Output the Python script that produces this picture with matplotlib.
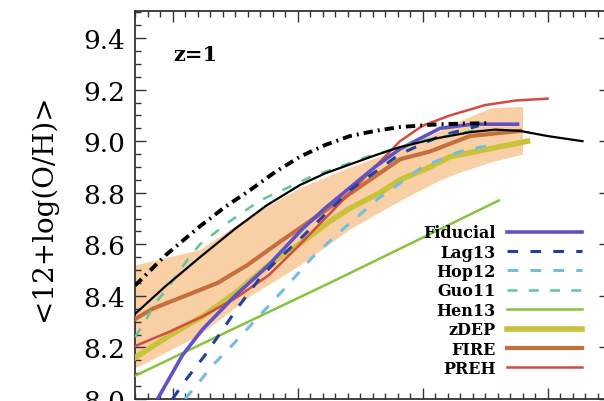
import numpy as np
import matplotlib
matplotlib.use("Agg")
import matplotlib.pyplot as plt
from matplotlib.ticker import MultipleLocator

plt.rcParams['font.family'] = ['DejaVu Serif']

# band (shaded range)
band_x = [7.70, 8.22, 8.62, 9.02, 9.42, 9.82, 10.14, 10.30, 10.55, 10.80]
band_lo = [8.12, 8.25, 8.40, 8.52, 8.66, 8.77, 8.85, 8.88, 8.92, 8.95]
band_hi = [8.52, 8.58, 8.71, 8.82, 8.90, 8.97, 9.04, 9.08, 9.13, 9.135]

# black reference curves
dd_x = [7.70, 7.95, 8.22, 8.42, 8.62, 8.82, 9.02, 9.22, 9.42, 9.62, 9.82, 10.14, 10.52]
dd_y = [8.44, 8.56, 8.67, 8.745, 8.81, 8.88, 8.94, 8.985, 9.02, 9.04, 9.055, 9.066, 9.07]
blk_x = [7.70, 7.95, 8.22, 8.50, 8.75, 9.02, 9.22, 9.42, 9.62, 9.82, 10.10, 10.38, 10.58, 10.78, 11.00, 11.28]
blk_y = [8.33, 8.44, 8.55, 8.66, 8.75, 8.83, 8.875, 8.91, 8.945, 8.977, 9.01, 9.035, 9.045, 9.04, 9.02, 9.00]

# models
fid_x = [7.88, 8.08, 8.24, 8.50, 8.77, 9.04, 9.22, 9.42, 9.62, 9.82, 10.14, 10.40, 10.76]
fid_y = [8.00, 8.17, 8.27, 8.40, 8.52, 8.66, 8.74, 8.82, 8.90, 8.97, 9.05, 9.066, 9.066]
lag_x = [8.00, 8.10, 8.26, 8.36, 8.53, 8.70, 8.80, 9.04, 9.42, 9.82, 10.14, 10.45]
lag_y = [8.00, 8.07, 8.17, 8.24, 8.36, 8.47, 8.52, 8.63, 8.81, 8.95, 9.02, 9.06]
hop_x = [8.10, 8.22, 8.32, 8.50, 8.69, 8.90, 9.12, 9.32, 9.64, 10.00, 10.30, 10.60]
hop_y = [8.00, 8.07, 8.13, 8.22, 8.32, 8.43, 8.55, 8.64, 8.775, 8.90, 8.96, 8.99]
guo_x = [7.70, 7.78, 7.86, 7.96, 8.12, 8.22, 8.46, 8.70, 9.10, 9.56, 9.98, 10.50]
guo_y = [8.24, 8.30, 8.37, 8.43, 8.54, 8.60, 8.69, 8.77, 8.86, 8.94, 9.00, 9.05]
hen_x = [7.70, 9.30, 10.61]
hen_y = [8.09, 8.46, 8.77]
zdep_x = [7.70, 7.97, 8.24, 8.50, 8.77, 9.04, 9.26, 9.42, 9.66, 9.82, 10.06, 10.22, 10.84]
zdep_y = [8.16, 8.245, 8.32, 8.41, 8.52, 8.61, 8.69, 8.74, 8.80, 8.85, 8.90, 8.94, 9.00]
fire_x = [7.70, 7.84, 8.10, 8.36, 8.60, 8.86, 9.04, 9.40, 9.82, 10.06, 10.22, 10.38, 10.78]
fire_y = [8.31, 8.35, 8.40, 8.45, 8.52, 8.61, 8.67, 8.79, 8.93, 8.96, 8.99, 9.02, 9.04]
preh_x = [7.70, 7.97, 8.24, 8.50, 8.77, 8.98, 9.42, 9.82, 10.00, 10.22, 10.50, 10.75, 11.00]
preh_y = [8.205, 8.26, 8.32, 8.39, 8.48, 8.58, 8.80, 9.00, 9.06, 9.10, 9.14, 9.158, 9.165]

fig = plt.figure(figsize=(6.04, 4.02), dpi=100)
ax = fig.add_axes([135/604, 2/402, 475/604, 388/402])

ax.fill_between(band_x, band_lo, band_hi, color='#f9cfa6', lw=0, zorder=1)
ax.plot(dd_x, dd_y, color='black', lw=2.8, dashes=(2.4, 1.3, 0.5, 1.3), zorder=5)
ax.plot(blk_x, blk_y, color='black', lw=1.6, zorder=5)

ax.plot(hen_x, hen_y, color='#86c440', lw=1.8, label='Hen13', zorder=3)
ax.plot(zdep_x, zdep_y, color='#c9c23a', lw=4.0, label='zDEP', zorder=3)
ax.plot(fire_x, fire_y, color='#c4703e', lw=3.0, label='FIRE', zorder=3)
ax.plot(preh_x, preh_y, color='#d44a44', lw=1.8, label='PREH', zorder=4)
ax.plot(fid_x, fid_y, color='#6052c4', lw=2.6, label='Fiducial', zorder=4)
ax.plot(lag_x, lag_y, color='#24409c', lw=2.2, dashes=(3.5, 4), label='Lag13', zorder=4)
ax.plot(hop_x, hop_y, color='#74bde0', lw=2.2, dashes=(3.5, 4), label='Hop12', zorder=4)
ax.plot(guo_x, guo_y, color='#62c596', lw=1.8, dashes=(4, 4.5), label='Guo11', zorder=4)

order = ['Fiducial', 'Lag13', 'Hop12', 'Guo11', 'Hen13', 'zDEP', 'FIRE', 'PREH']
hs, ls = ax.get_legend_handles_labels()
lut = dict(zip(ls, hs))
leg = ax.legend([lut[k] for k in order], order, loc='lower right',
                bbox_to_anchor=(590/604, 16/402), bbox_transform=fig.transFigure,
                frameon=False, markerfirst=False, handlelength=4.7,
                handletextpad=0.7, labelspacing=0.15, borderpad=0,
                prop={'family': 'DejaVu Serif', 'weight': 'bold', 'size': 11.5})

ax.text(0.08, 0.889, 'z=1', transform=ax.transAxes, fontsize=15,
        fontweight='bold', va='center', ha='left')

ax.set_xlim(7.7, 11.5)
ax.set_ylim(8.0, 9.505)
ax.xaxis.set_major_locator(MultipleLocator(1.0))
ax.xaxis.set_minor_locator(MultipleLocator(0.1))
ax.yaxis.set_major_locator(MultipleLocator(0.2))
ax.yaxis.set_minor_locator(MultipleLocator(0.05))
ax.tick_params(which='both', direction='in', top=True, right=True,
               labelbottom=False, color='#333333', width=1.0)
ax.tick_params(which='major', length=8, labelsize=19, pad=7)
ax.tick_params(which='minor', length=4)
for s in ax.spines.values():
    s.set_color('#333333')
    s.set_linewidth(1.3)

fig.text(43/604, (402-208)/402, '<12+log(O/H)>', rotation=90,
         fontsize=20, ha='center', va='center')

fig.savefig('out.png', dpi=100)
